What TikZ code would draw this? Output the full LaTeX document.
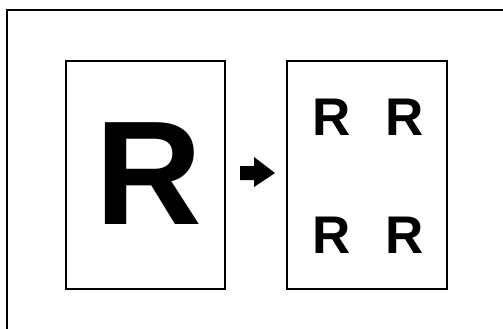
\documentclass[tikz,border=0pt]{standalone}
\usepackage{fontspec}
\setmainfont{Liberation Sans}
\begin{document}
\begin{tikzpicture}[x=1pt,y=-1pt,
  page/.style={draw=black,line width=2pt,fill=white},
  bigR/.style={inner sep=0pt,font=\fontsize{148}{148}\selectfont\bfseries},
  smallR/.style={inner sep=0pt,font=\fontsize{53}{53}\selectfont\bfseries}]
\useasboundingbox (0,0) rectangle (503,329);
\draw[line width=2.2pt] (7,329) -- (7,10) -- (503,10);
\draw[page] (66,61) rectangle (225,289);
\draw[page] (287,61) rectangle (447,289);
\node[bigR] (big) at (149,174) {R};
\node[smallR] (r1) at (331.5,117.5) {R};
\node[smallR] (r2) at (405,117.5) {R};
\node[smallR] (r3) at (331.5,235) {R};
\node[smallR] (r4) at (405,235) {R};
\fill[black] (240,166) -- (254,166) -- (254,157) -- (275,173) -- (254,187) -- (254,180) -- (240,180) -- cycle;
\end{tikzpicture}
\end{document}
